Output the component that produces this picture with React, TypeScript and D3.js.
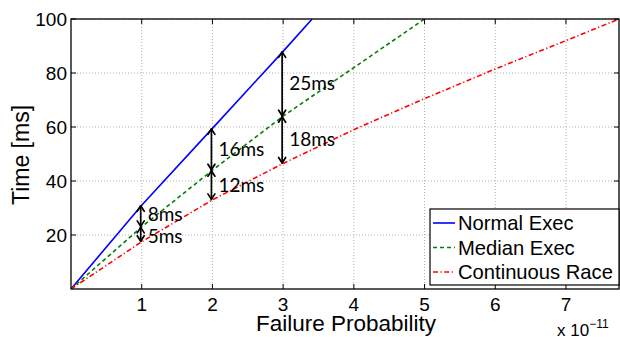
import { line, scaleLinear } from "d3";

const W = 620;
const H = 337;
const M = { top: 19, right: 1, bottom: 48, left: 71 };

const xTicks = [1, 2, 3, 4, 5, 6, 7];
const yTicks = [20, 40, 60, 80, 100];

// failure probability (x 1e-11) vs. time [ms]
const normalX = [0, 1, 2, 3, 3.41];
const normalY = [0, 31, 59.5, 88, 100];
const medianX = [0, 1, 2, 3, 4, 5];
const medianY = [0, 23, 44, 64, 82, 100];
const raceX = [0, 1, 2, 3, 4, 5, 6, 7, 7.75];
const raceY = [0, 17.5, 33, 46.5, 59, 70.5, 81.5, 92, 100];

const seriesNames = ["Normal Exec", "Median Exec", "Continuous Race"];
const seriesColors = ["#0000ff", "#008000", "#ff0000"];
const seriesDash = [undefined, "4 3", "5 2.5 1.2 2.5"];

// gap annotations: at x, between upper series and lower series
const gapX = [1, 1, 2, 2, 3, 3];
const gapUpper = [0, 1, 0, 1, 0, 1];
const gapLower = [1, 2, 1, 2, 1, 2];
const gapLabels = ["8ms", "5ms", "16ms", "12ms", "25ms", "18ms"];
const gapNudge = [-2, 2.5, 0, 0, 0, 0];

const sans = "'Liberation Sans', Arial, Helvetica, sans-serif";

type Pt = [number, number];
const zip = (xs: number[], ys: number[]): Pt[] => xs.map((x, i) => [x, ys[i]]);
const series: Pt[][] = [zip(normalX, normalY), zip(medianX, medianY), zip(raceX, raceY)];
const valueAt = (s: Pt[], x: number) => s.find((p) => p[0] === x)?.[1] ?? 0;

function Arrow({ x, y1, y2 }: { x: number; y1: number; y2: number }) {
  const h = 6;
  const w = 3.5;
  return (
    <g stroke="#000" strokeWidth={1.7} fill="none" strokeLinecap="round" strokeLinejoin="round">
      <line x1={x} x2={x} y1={y1 + 0.5} y2={y2 - 0.5} />
      <path d={`M${x - w},${y1 + h} L${x},${y1 + 0.5} L${x + w},${y1 + h}`} />
      <path d={`M${x - w},${y2 - h} L${x},${y2 - 0.5} L${x + w},${y2 - h}`} />
    </g>
  );
}

export default function App() {
  const x = scaleLinear().domain([0, 7.75]).range([M.left, W - M.right]);
  const y = scaleLinear().domain([0, 100]).range([H - M.bottom, M.top]);
  const mk = line<Pt>()
    .x((d) => x(d[0]))
    .y((d) => y(d[1]));
  const x0 = M.left;
  const x1 = W - M.right;
  const y0 = H - M.bottom;
  const y1 = M.top;

  return (
    <svg
      width={W}
      height={H}
      viewBox={`0 0 ${W} ${H}`}
      style={{ position: "absolute", left: 0, top: 0, background: "#fff" }}
    >
      <defs>
        <clipPath id="plot">
          <rect x={x0} y={y1} width={x1 - x0} height={y0 - y1} />
        </clipPath>
      </defs>

      {/* grid */}
      {xTicks.map((t) => (
        <line key={`gx${t}`} x1={x(t)} x2={x(t)} y1={y0} y2={y1} stroke="#b0b0b0" strokeDasharray="1 2" />
      ))}
      {yTicks.map((t) => (
        <line key={`gy${t}`} x1={x0} x2={x1} y1={y(t)} y2={y(t)} stroke="#b0b0b0" strokeDasharray="1 2" />
      ))}

      {/* ticks */}
      <g stroke="#000" strokeWidth={1}>
        {xTicks.map((t) => (
          <g key={`tx${t}`}>
            <line x1={x(t)} x2={x(t)} y1={y0} y2={y0 - 5} />
            <line x1={x(t)} x2={x(t)} y1={y1} y2={y1 + 5} />
          </g>
        ))}
        {yTicks.map((t) => (
          <g key={`ty${t}`}>
            <line x1={x0} x2={x0 + 5} y1={y(t)} y2={y(t)} />
            <line x1={x1} x2={x1 - 5} y1={y(t)} y2={y(t)} />
          </g>
        ))}
      </g>

      {/* series */}
      <g clipPath="url(#plot)">
        {series.map((s, i) => (
          <path
            key={seriesNames[i]}
            d={mk(s) ?? ""}
            fill="none"
            stroke={seriesColors[i]}
            strokeWidth={1.6}
            strokeDasharray={seriesDash[i]}
          />
        ))}
      </g>

      {/* box */}
      <rect x={x0} y={y1} width={x1 - x0} height={y0 - y1} fill="none" stroke="#000" strokeWidth={1.3} />

      {/* gap annotations */}
      {gapX.map((gx, i) => {
        const hi = valueAt(series[gapUpper[i]], gx);
        const lo = valueAt(series[gapLower[i]], gx);
        const ax = x(gx) - 1;
        return (
          <g key={gapLabels[i]}>
            <Arrow x={ax} y1={y(hi)} y2={y(lo)} />
            <text
              x={ax + 7}
              y={y((hi + lo) / 2) + gapNudge[i]}
              dy="0.35em"
              fontFamily="Lato, 'Open Sans', sans-serif"
              fontSize={19}
              fill="#000"
            >
              {gapLabels[i]}
            </text>
          </g>
        );
      })}

      {/* tick labels */}
      {xTicks.map((t) => (
        <text key={`lx${t}`} x={x(t)} y={311} textAnchor="middle" fontFamily={sans} fontSize={19}>
          {t}
        </text>
      ))}
      {yTicks.map((t) => (
        <text key={`ly${t}`} x={x0 - 4} y={y(t)} dy="0.35em" textAnchor="end" fontFamily={sans} fontSize={19}>
          {t}
        </text>
      ))}

      {/* axis titles */}
      <text x={346} y={331} textAnchor="middle" fontFamily={sans} fontSize={22.5}>
        Failure Probability
      </text>
      <text
        transform={`translate(29,${(y0 + y1) / 2 + 1}) rotate(-90)`}
        textAnchor="middle"
        fontFamily={sans}
        fontSize={23}
      >
        Time [ms]
      </text>
      <text x={557} y={336} fontFamily={sans} fontSize={17}>
        x 10
        <tspan dy={-8} fontSize={12}>
          −11
        </tspan>
      </text>

      {/* legend */}
      <g>
        <rect x={430} y={209} width={189} height={76} fill="#fff" stroke="#000" strokeWidth={1.2} />
        {seriesNames.map((n, i) => {
          const ly = 223 + i * 24.5;
          return (
            <g key={`lg${n}`}>
              <line
                x1={433}
                x2={455}
                y1={ly}
                y2={ly}
                stroke={seriesColors[i]}
                strokeWidth={1.6}
                strokeDasharray={seriesDash[i]}
              />
              <text x={458} y={ly} dy="0.36em" fontFamily={sans} fontSize={20.2}>
                {n}
              </text>
            </g>
          );
        })}
      </g>
    </svg>
  );
}
